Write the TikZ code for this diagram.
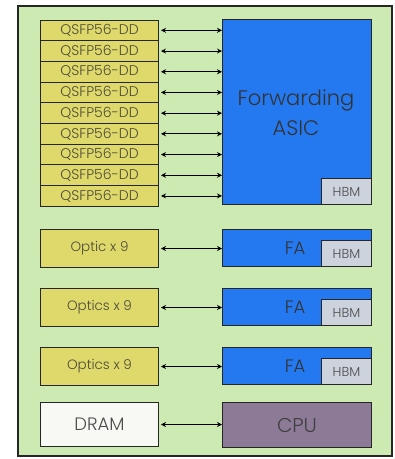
\documentclass[tikz,border=0pt]{standalone}
\usepackage{fontspec}
\setmainfont{Poppins}[UprightFont={* Light}]
\usetikzlibrary{arrows.meta}
\definecolor{board}{HTML}{CCEAB2}
\definecolor{port}{HTML}{DFD86A}
\definecolor{asic}{HTML}{2479F0}
\definecolor{hbm}{HTML}{CDD3DD}
\definecolor{cpu}{HTML}{8D7A97}
\definecolor{dram}{HTML}{F8F8F4}
\definecolor{txt}{HTML}{4A4A3A}
\tikzset{
  box/.style={draw=black!85, line width=1pt, inner sep=0pt, anchor=north west},
  portbox/.style={box, fill=port, minimum width=118pt, text=txt},
  chipbox/.style={box, fill=asic, minimum width=149pt},
  hbmbox/.style={box, fill=hbm, minimum width=50pt, anchor=south east, text=black!70, font=\fontsize{13}{14}\selectfont},
  link/.style={line width=0.9pt, {Stealth[length=5pt,width=5pt]}-{Stealth[length=5pt,width=5pt]}},
}
\begin{document}
\begin{tikzpicture}[x=1pt,y=-1pt]
\useasboundingbox (0,0) rectangle (395,459);
% board outline
\draw[fill=board, draw=black!85, line width=1.6pt] (18,6) rectangle (392,456);
% front-panel ports
\foreach \i in {0,...,8}{
  \node[portbox, minimum height=20.7pt, font=\fontsize{14}{15}\selectfont]
    (q\i) at (40,{19.5+20.7*\i}) {QSFP56-DD};
}
% forwarding ASIC
\node[chipbox, minimum height=185pt] (asic) at (222,19) {};
\node[text=black!80, align=center, font=\fontsize{21}{30}\selectfont] (asiclbl) at (296,113) {Forwarding\\ASIC};
\node[hbmbox, minimum height=26pt] (hbm0) at (asic.south east) {HBM};
\foreach \i in {0,...,8}{
  \coordinate (a\i) at (asic.west |- q\i.east);
  \draw[link] ([xshift=2pt]q\i.east) -- (a\i);
}
% fabric adapters
\foreach \n/\y/\lbl in {1/229/Optic x 9, 2/288/Optics x 9, 3/347/Optics x 9}{
  \node[portbox, minimum height=38pt, font=\fontsize{13.5}{15}\selectfont] (o\n) at (40,\y) {\lbl};
  \node[chipbox, minimum height=37pt] (fa\n) at (222,\y) {};
  \node[hbmbox, minimum height=26pt] (hbm\n) at (fa\n.south east) {HBM};
  \node[text=black!80, font=\fontsize{18}{20}\selectfont, anchor=east] (falbl\n) at ([xshift=-12pt]fa\n.east -| hbm\n.west) {FA};
  \coordinate (f\n) at (fa\n.west |- o\n.east);
  \draw[link] ([xshift=2pt]o\n.east) -- (f\n);
}
% control plane
\node[box, fill=dram, minimum width=118pt, minimum height=44pt, text=black!70, font=\fontsize{18}{20}\selectfont] (dram) at (40,402) {DRAM};
\node[box, fill=cpu, minimum width=149pt, minimum height=45pt, text=black!75, font=\fontsize{20}{22}\selectfont] (cpu) at (222,402) {CPU};
\coordinate (c) at (cpu.west |- dram.east);
\draw[link] ([xshift=2pt]dram.east) -- (c);
\end{tikzpicture}
\end{document}
